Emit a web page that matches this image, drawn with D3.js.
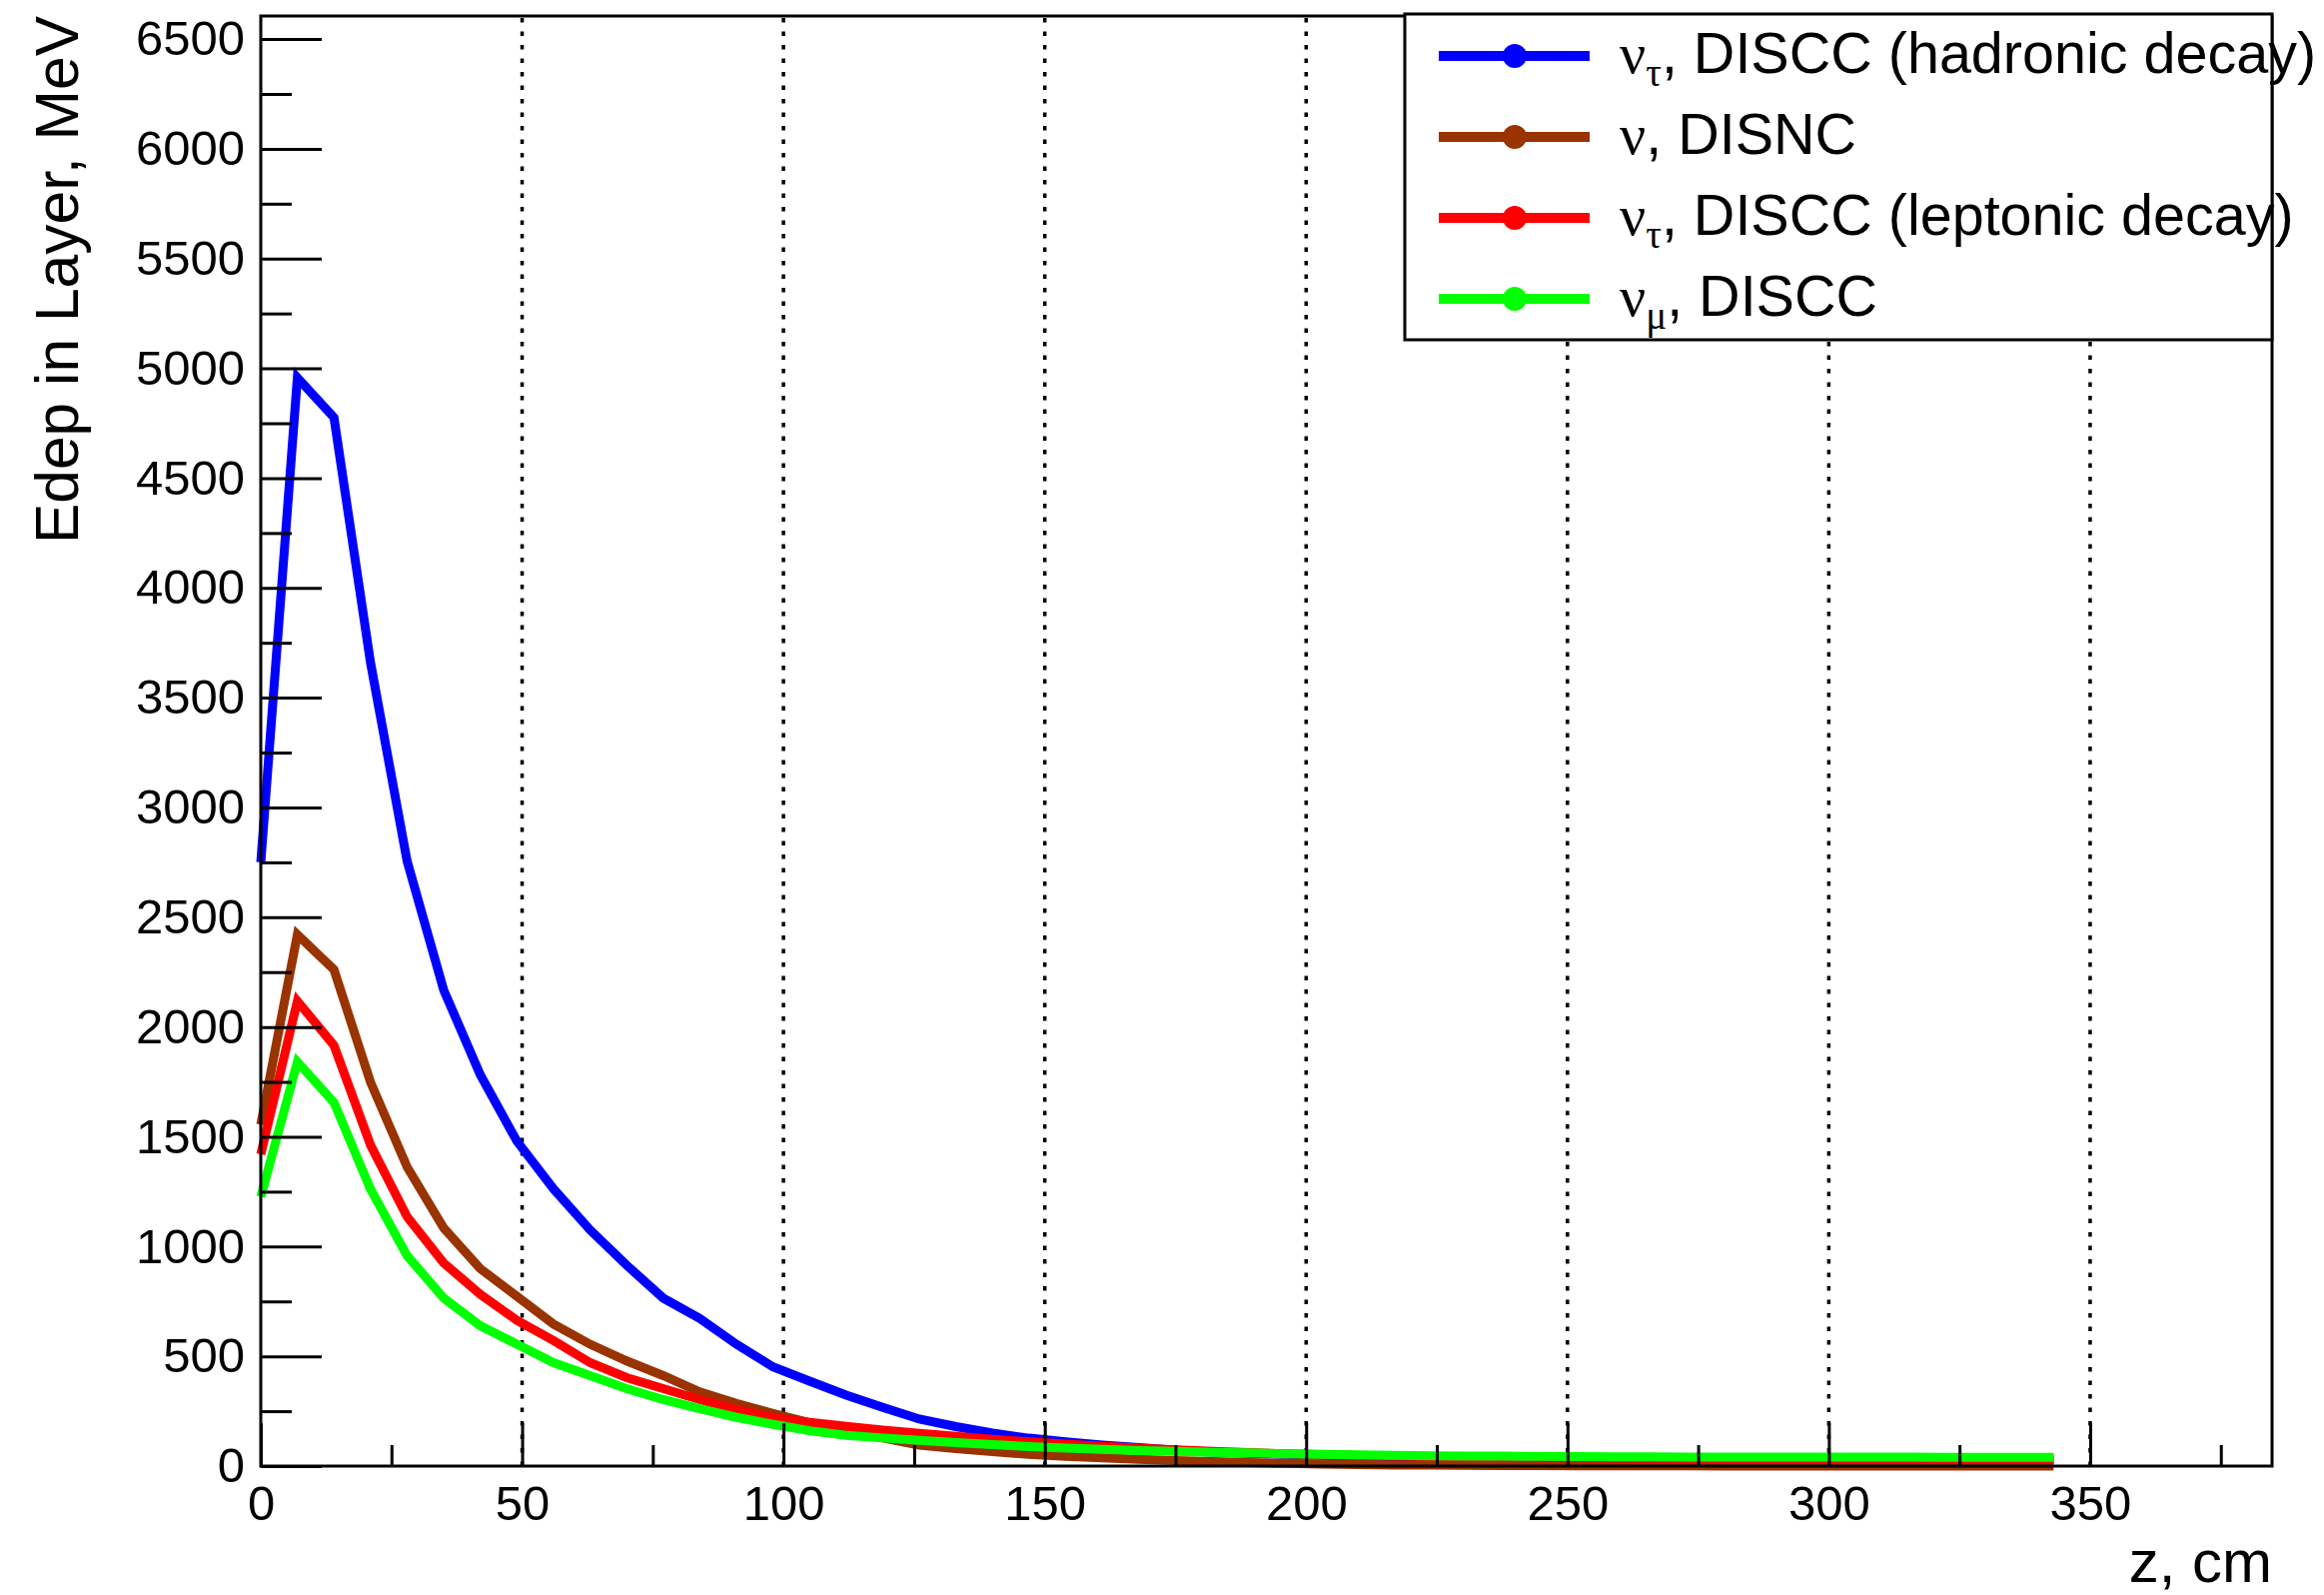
<!DOCTYPE html>
<html>
<head>
<meta charset="utf-8">
<script src="https://cdn.jsdelivr.net/npm/d3@7"></script>
<style>
  html, body { margin: 0; padding: 0; background: #ffffff; }
  svg { display: block; }
</style>
</head>
<body>
<svg id="chart" width="2326" height="1596"></svg>
<script>
// ---------------- data ----------------
const zValues = [0, 7, 14, 21, 28, 35, 42, 49, 56, 63,
                 70, 77, 84, 91, 98, 105, 112, 119, 126, 133,
                 140, 147, 154, 161, 168, 175, 182, 189, 196, 203,
                 210, 217, 224, 231, 238, 245, 252, 259, 266, 273,
                 280, 287, 294, 301, 308, 315, 322, 329, 336, 343];

const tauHadronic = [2750, 4957, 4776, 3659, 2755, 2168, 1782, 1480, 1263, 1076,
                     915, 765, 672, 555, 452, 387, 323, 267, 214, 180,
                     150, 127, 110, 96, 84, 72, 64, 58, 53, 49,
                     46, 43, 41, 39, 37, 36, 35, 34, 33, 32,
                     32, 31, 31, 30, 30, 30, 29, 29, 29, 29];

const nuDISNC = [1555, 2421, 2261, 1748, 1362, 1084, 899, 773, 647, 555,
                 479, 412, 338, 285, 240, 198, 160, 128, 95, 80,
                 66, 53, 44, 38, 31, 25, 20, 16, 12, 9,
                 7, 5, 4, 3, 2, 2, 1, 1, 1, 1,
                 0, 0, 0, 0, 0, 0, 0, 0, 0, 0];

const tauLeptonic = [1420, 2118, 1916, 1462, 1135, 925, 782, 664, 572, 471,
                     403, 353, 303, 258, 220, 199, 181, 164, 149, 135,
                     122, 110, 100, 90, 82, 74, 67, 61, 56, 52,
                     48, 45, 43, 41, 39, 38, 37, 36, 35, 35,
                     34, 34, 34, 33, 33, 33, 33, 33, 33, 33];

const muDISCC = [1227, 1841, 1656, 1261, 958, 765, 639, 555, 471, 412,
                 353, 303, 261, 222, 190, 161, 140, 128, 117, 107,
                 98, 89, 82, 76, 71, 67, 63, 60, 56, 53,
                 51, 49, 47, 46, 45, 44, 43, 42, 42, 41,
                 41, 41, 41, 41, 41, 41, 40, 40, 40, 40];

const seriesNames = ["tauHadronic", "nuDISNC", "tauLeptonic", "muDISCC"];
const seriesColors = ["#0000ff", "#993300", "#ff0000", "#00ff00"];
const legendSub = ["τ", "", "τ", "μ"];
const legendText = [", DISCC (hadronic decay)", ", DISNC", ", DISCC (leptonic decay)", ", DISCC"];

const xMajorTicks = [0, 50, 100, 150, 200, 250, 300, 350];
const xMinorTicks = [25, 75, 125, 175, 225, 275, 325, 375];
const yMajorTicks = [0, 500, 1000, 1500, 2000, 2500, 3000, 3500, 4000, 4500, 5000, 5500, 6000, 6500];
const yMinorTicks = [250, 750, 1250, 1750, 2250, 2750, 3250, 3750, 4250, 4750, 5250, 5750, 6250];
const xDomain = [0, 384.8];
const yDomain = [0, 6605];
const xTitle = "z, cm";
const yTitle = "Edep in Layer, MeV";

// ---------------- layout ----------------
const L = 261, R = 2274, T = 16, B = 1467;
const sans = "'Liberation Sans', Arial, Helvetica, sans-serif";
const serif = "'Liberation Serif', 'Times New Roman', serif";

const svg = d3.select("#chart");
svg.append("rect").attr("width", 2326).attr("height", 1596).attr("fill", "#fff");

const x = d3.scaleLinear().domain(xDomain).range([L, R]);
const y = d3.scaleLinear().domain(yDomain).range([B, T]);

// grid (vertical dotted)
svg.append("g").selectAll("line").data(xMajorTicks.filter(d => d > 0))
  .join("line")
  .attr("x1", d => x(d)).attr("x2", d => x(d))
  .attr("y1", B).attr("y2", T)
  .attr("stroke", "#000").attr("stroke-width", 3.5)
  .attr("stroke-dasharray", "4.5,9");

// series
const data = [tauHadronic, nuDISNC, tauLeptonic, muDISCC];
const line = d3.line().x((d, i) => x(zValues[i])).y(d => y(d));
const gLines = svg.append("g");
data.forEach((vals, k) => {
  gLines.append("path")
    .datum(vals)
    .attr("d", line)
    .attr("fill", "none")
    .attr("stroke", seriesColors[k])
    .attr("stroke-width", 9)
    .attr("stroke-linejoin", "miter")
    .attr("stroke-miterlimit", 10);
});

// axes
function styleAxis(g) {
  g.select(".domain").remove();
  g.selectAll(".tick line").attr("stroke", "#000").attr("stroke-width", 3);
  g.selectAll(".tick text").attr("font-family", sans).attr("font-size", 49).attr("fill", "#000");
}

const xAxis = svg.append("g").attr("transform", `translate(0,${B})`)
  .call(d3.axisBottom(x).tickValues(xMajorTicks).tickFormat(d3.format("d")).tickSize(-43).tickPadding(19));
styleAxis(xAxis);
const xAxisMinor = svg.append("g").attr("transform", `translate(0,${B})`)
  .call(d3.axisBottom(x).tickValues(xMinorTicks).tickFormat("").tickSize(-21));
styleAxis(xAxisMinor);

const yAxis = svg.append("g").attr("transform", `translate(${L},0)`)
  .call(d3.axisLeft(y).tickValues(yMajorTicks).tickFormat(d3.format("d")).tickSize(-61).tickPadding(16));
styleAxis(yAxis);
const yAxisMinor = svg.append("g").attr("transform", `translate(${L},0)`)
  .call(d3.axisLeft(y).tickValues(yMinorTicks).tickFormat("").tickSize(-31));
styleAxis(yAxisMinor);

// frame
svg.append("rect").attr("x", L).attr("y", T).attr("width", R - L).attr("height", B - T)
  .attr("fill", "none").attr("stroke", "#000").attr("stroke-width", 3);

// axis titles
svg.append("text").attr("x", R).attr("y", 1583).attr("text-anchor", "end")
  .attr("font-family", sans).attr("font-size", 60).attr("fill", "#000").text(xTitle);
svg.append("text").attr("transform", "translate(78,16) rotate(-90)").attr("text-anchor", "end")
  .attr("font-family", sans).attr("font-size", 60.5).attr("fill", "#000").text(yTitle);

// legend
const lg = svg.append("g");
lg.append("rect").attr("x", 1406).attr("y", 14).attr("width", 868).attr("height", 326)
  .attr("fill", "#fff").attr("stroke", "#000").attr("stroke-width", 3);
const rowY = [56, 137, 218, 299];
seriesNames.forEach((name, k) => {
  const cy = rowY[k];
  lg.append("line").attr("x1", 1440).attr("x2", 1591).attr("y1", cy).attr("y2", cy)
    .attr("stroke", seriesColors[k]).attr("stroke-width", 10);
  lg.append("circle").attr("cx", 1516).attr("cy", cy).attr("r", 12).attr("fill", seriesColors[k]);
  const t = lg.append("text").attr("x", 1621).attr("y", cy + 17)
    .attr("font-family", sans).attr("font-size", 57.5).attr("fill", "#000");
  t.append("tspan").attr("font-family", serif).attr("font-size", 58).text("ν");
  if (legendSub[k]) {
    t.append("tspan").attr("font-family", serif).attr("font-size", 39).attr("dy", 13).text(legendSub[k]);
    t.append("tspan").attr("dy", -13).text(legendText[k]);
  } else {
    t.append("tspan").text(legendText[k]);
  }
});
</script>
</body>
</html>
